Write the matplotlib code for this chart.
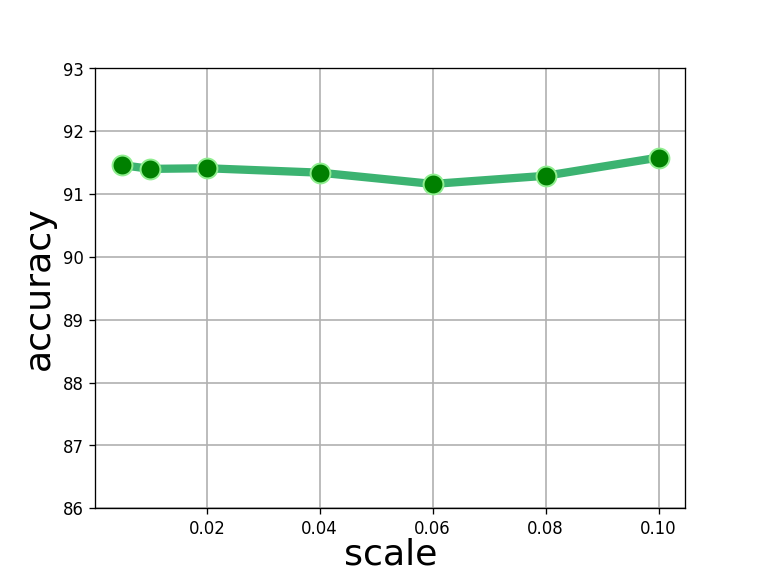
import matplotlib.pyplot as plt

scale = [0.005, 0.01, 0.02, 0.04, 0.06, 0.08, 0.1]
accuracy = [91.46, 91.40, 91.41, 91.34, 91.16, 91.29, 91.58]

fig = plt.figure(figsize=(6.4, 4.8), dpi=119)
plt.plot(scale, accuracy, color="mediumseagreen", linewidth=5,
         marker="o", markersize=12, markerfacecolor="green",
         markeredgecolor="lightgreen", markeredgewidth=1.2)
plt.ylim(86, 93)
plt.xticks([0.02, 0.04, 0.06, 0.08, 0.10])
plt.grid(True, color="#b0b0b0", linewidth=1)
plt.xlabel("scale", fontsize=22, labelpad=0)
plt.ylabel("accuracy", fontsize=22)
plt.savefig("out.png")
plt.close()
